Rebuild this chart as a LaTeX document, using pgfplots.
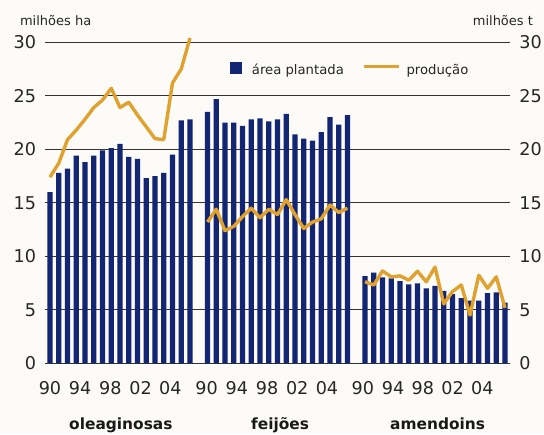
\documentclass[border=0pt]{standalone}
\usepackage{fontspec}
\setmainfont{DejaVu Sans}
\usepackage{pgfplots}
\usepackage{pgfplotstable}
\pgfplotsset{compat=1.18}
\definecolor{navy}{RGB}{19,38,115}
\definecolor{gold}{RGB}{224,161,46}
\definecolor{bg}{RGB}{252,251,247}

\pgfplotstableread{
x area prod
0 16.0 17.4
1 17.8 18.7
2 18.2 20.9
3 19.4 21.8
4 18.8 22.8
5 19.4 23.9
6 19.9 24.6
7 20.1 25.7
8 20.5 23.9
9 19.3 24.4
10 19.1 23.2
11 17.3 22.1
12 17.5 21.0
13 17.8 20.9
14 19.5 26.2
15 22.7 27.5
16 22.8 30.4
}\oleo

\pgfplotstableread{
x area prod
18 23.5 13.2
19 24.7 14.4
20 22.5 12.4
21 22.5 12.8
22 22.2 13.7
23 22.8 14.5
24 22.9 13.6
25 22.6 14.4
26 22.8 13.9
27 23.3 15.3
28 21.4 13.9
29 21.0 12.6
30 20.8 13.2
31 21.6 13.5
32 23.0 14.8
33 22.3 14.1
34 23.2 14.5
}\feij

\pgfplotstableread{
x area prod
36 8.14 7.62
37 8.48 7.32
38 8.02 8.63
39 7.93 8.08
40 7.68 8.17
41 7.38 7.77
42 7.47 8.60
43 7.01 7.62
44 7.23 8.99
45 6.77 5.55
46 6.46 6.71
47 6.10 7.32
48 5.85 4.51
49 5.85 8.23
50 6.55 7.01
51 6.62 8.08
52 5.67 5.18
}\amen

\pgfplotsset{
  common/.style={
    at={(0,0)}, anchor=south west, scale only axis,
    width=232.5pt, height=160.5pt,
    xmin=-0.57, xmax=52.57, ymin=0, ymax=30,
    ytick={0,5,...,30},
    major tick length=0pt,
    /pgf/number format/assume math mode=true,
    tick label style={font=\fontsize{8.8}{10}\selectfont, text=black!85},
  }
}

\begin{document}
\begin{tikzpicture}
\path[fill=bg, use as bounding box] (-22.5pt,-35.35pt) rectangle (249.5pt,181.65pt);
\begin{axis}[
  common,
  clip=false,
  axis line style={draw=none},
  ymajorgrids,
  grid style={black!80, line width=0.5pt},
  yticklabel style={inner sep=0pt, anchor=east, xshift=-4.25pt},
  xtick={0,3.45,6.9,10.35,13.75,17.9,21.35,24.8,28.25,31.65,35.75,39.2,42.6,46,49.4},
  xticklabels={90,94,98,02,04,90,94,98,02,04,90,94,98,02,04},
  xticklabel style={anchor=base, inner sep=0pt, yshift=-15.7pt},
  legend style={at={(0.3978,0.9153)}, anchor=west, draw=none, fill=none,
    inner sep=0pt, outer sep=0pt,
    nodes={inner sep=0pt, font=\fontsize{6.6}{8}\selectfont, text=black!85}},
  legend columns=2,
  legend cell align=left,
]
\addplot[ybar, bar shift=0pt, bar width=0.62, fill=navy, draw=none,
  legend image code/.code={\fill[navy] (0pt,-1.9pt) rectangle (6.2pt,4.3pt);
    \path[draw=none, fill=none] (6.2pt,0pt) -- (11pt,0pt);}]
  table[x=x, y=area]{\oleo};
\addlegendentry{área plantada}
\addplot[gold, line width=1.7pt, line join=round,
  legend image code/.code={\path[draw=none] (0pt,0pt) -- (10pt,0pt);
    \draw[gold, line width=1.7pt] (10pt,2.0pt) -- (27.5pt,2.0pt);
    \path[draw=none] (27.5pt,0pt) -- (31.35pt,0pt);}]
  table[x=x, y=prod]{\oleo};
\addlegendentry{produção}
\addplot[ybar, bar shift=0pt, bar width=0.62, fill=navy, draw=none, forget plot]
  table[x=x, y=area]{\feij};
\addplot[ybar, bar shift=0pt, bar width=0.62, fill=navy, draw=none, forget plot]
  table[x=x, y=area]{\amen};
\addplot[gold, line width=1.7pt, line join=round, forget plot]
  table[x=x, y=prod]{\feij};
\addplot[gold, line width=1.7pt, line join=round, forget plot]
  table[x=x, y=prod]{\amen};
\node[anchor=base, yshift=-33.1pt, font=\bfseries\fontsize{7.7}{9}\selectfont, text=black!90] at (axis cs:8.1,0) {oleaginosas};
\node[anchor=base, yshift=-33.1pt, font=\bfseries\fontsize{7.7}{9}\selectfont, text=black!90] at (axis cs:26.3,0) {feijões};
\node[anchor=base, yshift=-33.1pt, font=\bfseries\fontsize{7.7}{9}\selectfont, text=black!90] at (axis cs:44.3,0) {amendoins};
\end{axis}
\begin{axis}[
  common,
  hide x axis,
  axis y line*=right,
  y axis line style={draw=none},
  yticklabel style={inner sep=0pt, anchor=west, xshift=4.5pt},
]
\addplot[draw=none] coordinates {(0,0)};
\end{axis}
\node[anchor=base west, font=\fontsize{6.5}{8}\selectfont, text=black!85] at (-16pt,169pt) {milhões ha};
\node[anchor=base east, font=\fontsize{6.5}{8}\selectfont, text=black!85] at (247.5pt,169pt) {milhões t};
\end{tikzpicture}
\end{document}
